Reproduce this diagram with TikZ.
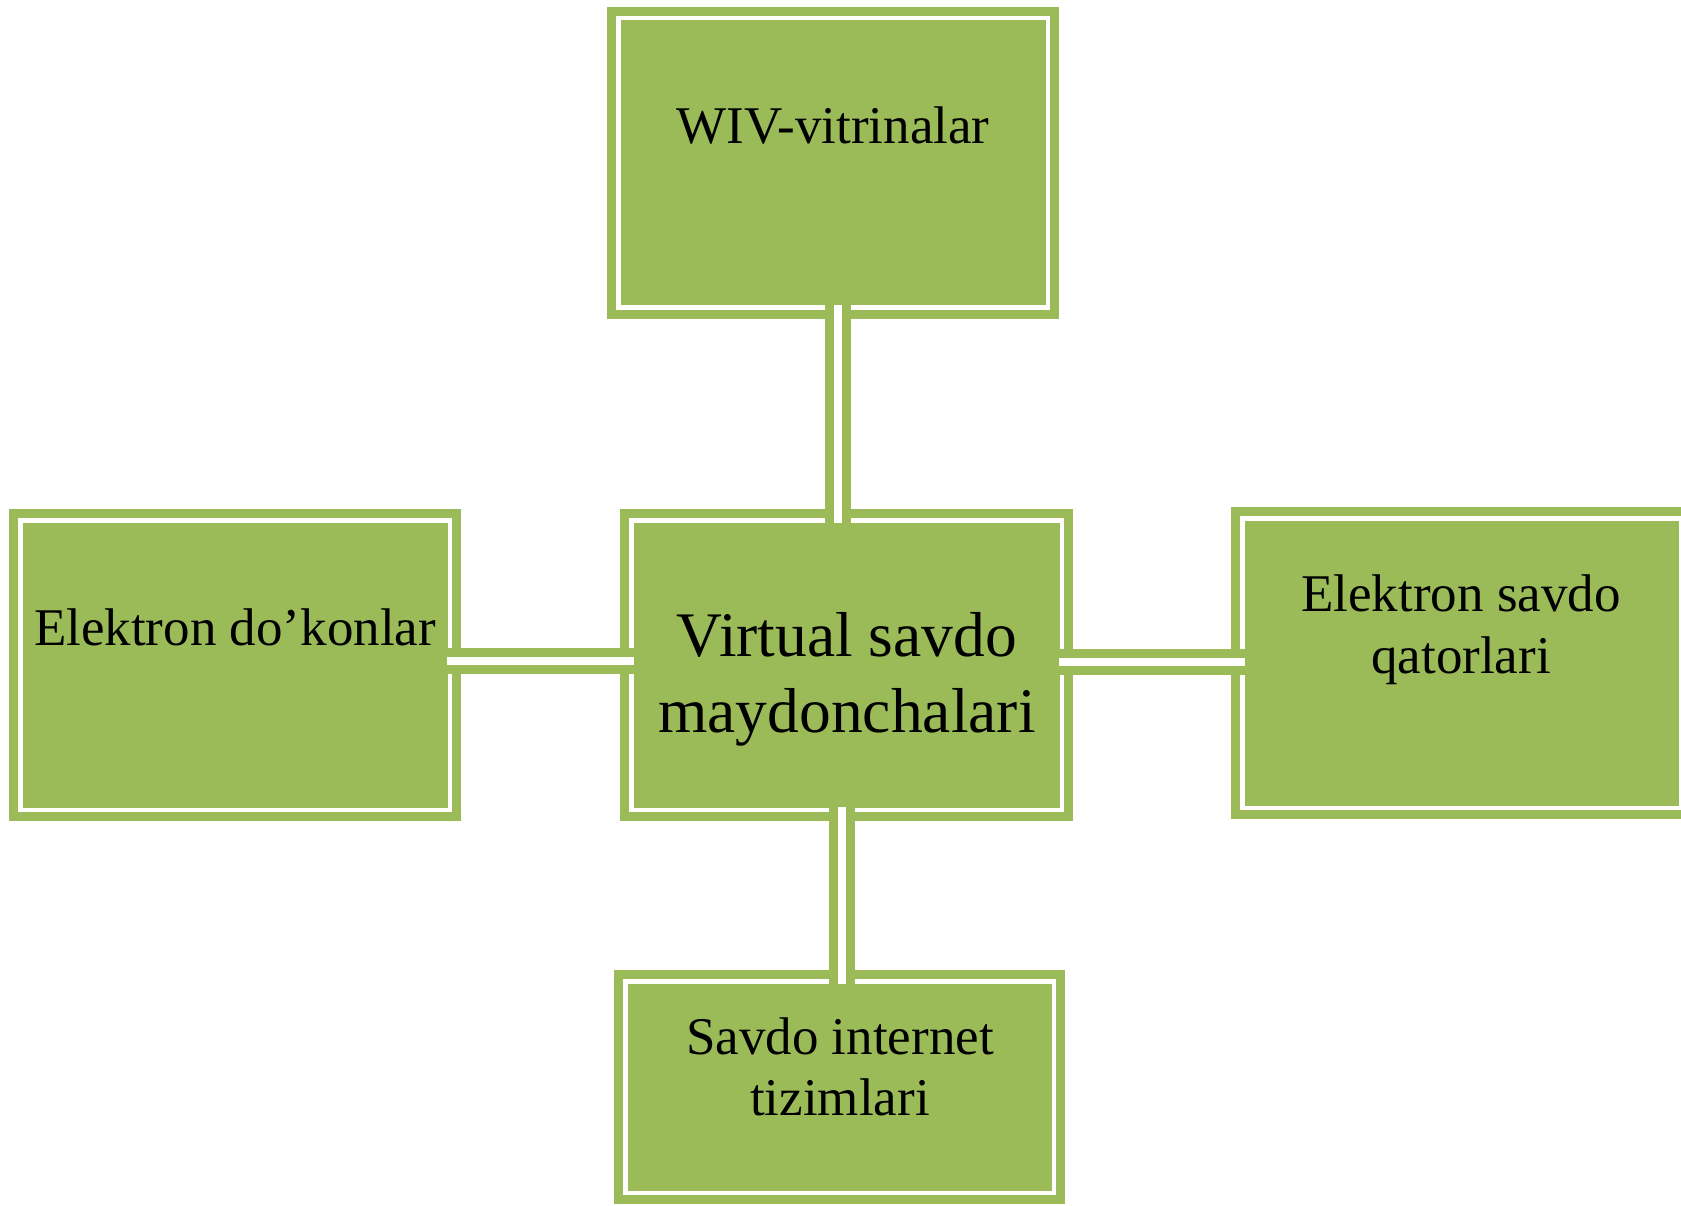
\documentclass[tikz,border=0pt]{standalone}
\usepackage{fontspec}
\setmainfont{Liberation Serif}
\definecolor{boxgreen}{HTML}{9BBB59}
\tikzset{
  box/.style={rectangle, inner sep=0pt, outer sep=0pt, fill=boxgreen, draw=white,
    line width=4.5pt, preaction={draw=boxgreen, line width=22.5pt}},
  link/.style={draw=boxgreen, line width=9pt, double=white, double distance=8pt,
    shorten <=-2.5pt, shorten >=-2.5pt},
  lbl/.style={anchor=base, inner sep=0pt, font=\fontsize{53}{62}\selectfont},
  biglbl/.style={anchor=base, inner sep=0pt, font=\fontsize{63.5}{76}\selectfont},
}
\begin{document}
\begin{tikzpicture}[x=1pt, y=-1pt]
\useasboundingbox (0,0) rectangle (1681,1206);
\fill[white] (0,0) rectangle (1681,1206);

% boxes
\node[box, minimum width=429.5pt, minimum height=289.5pt] (top) at (833,163) {};
\node[box, minimum width=430.5pt, minimum height=289.5pt] (center) at (846.5,665) {};
\node[box, minimum width=429.5pt, minimum height=289.5pt] (left) at (235,665) {};
\node[box, minimum width=438.5pt, minimum height=289.5pt] (right) at (1461.5,663) {};
\node[box, minimum width=428.5pt, minimum height=211.5pt] (bot) at (839.5,1087) {};

% connector guide coordinates
\coordinate (ctop) at (838,0);
\coordinate (cbot) at (841.5,0);
\coordinate (cleft) at (0,661);
\coordinate (cright) at (0,661.5);

% connectors
\draw[link] (top.south -| ctop) -- (center.north -| ctop);
\draw[link] (center.south -| cbot) -- (bot.north -| cbot);
\draw[link] (left.east |- cleft) -- (center.west |- cleft);
\draw[link] (center.east |- cright) -- (right.west |- cright);

% texts
\node[lbl] (ttop) at (833,144) {WIV-vitrinalar};
\node[lbl] (tleft) at (235,645) {Elektron do’konlar};
\node[lbl] (tright1) at (1461,611) {Elektron savdo};
\node[lbl] (tright2) at (1461,673) {qatorlari};
\node[lbl] (tbot1) at (840,1054) {Savdo internet};
\node[lbl] (tbot2) at (840,1115) {tizimlari};
\node[biglbl] (tc1) at (847,656) {Virtual savdo};
\node[biglbl] (tc2) at (847,732) {maydonchalari};
\end{tikzpicture}
\end{document}
